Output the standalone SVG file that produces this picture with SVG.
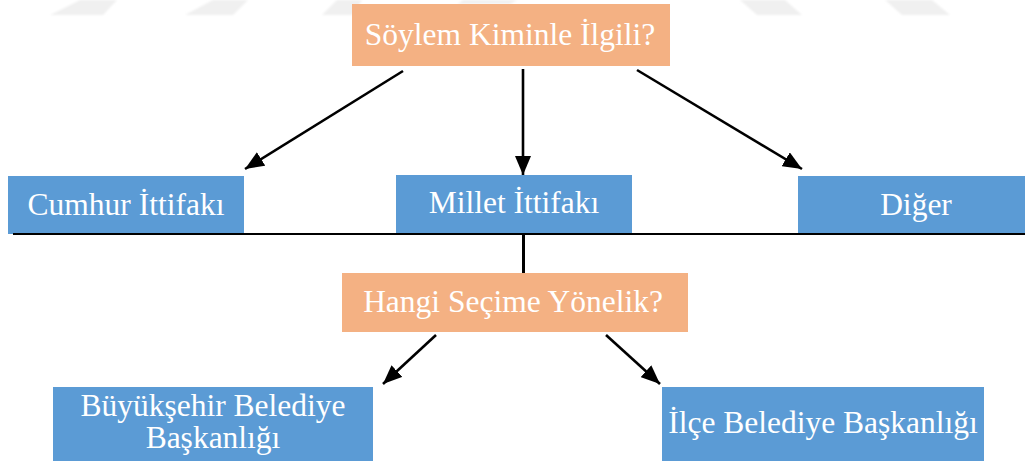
<svg xmlns="http://www.w3.org/2000/svg" width="1025" height="461" viewBox="0 0 1025 461">
  <style>
    .q { fill: #F4B183; }
    .b { fill: #5B9BD5; }
    .t { font-family: "Liberation Serif", "Times New Roman", serif; font-size: 31.5px; fill: #ffffff; text-anchor: middle; }
    .ln { stroke: #000000; stroke-width: 2.6; fill: none; }
    .wm { fill: #f0f0f0; }
  </style>
  <defs>
    <marker id="ah" markerUnits="userSpaceOnUse" markerWidth="19" markerHeight="16" refX="19" refY="8" orient="auto">
      <path d="M0,0 L19,8 L0,16 z" fill="#000000"/>
    </marker>
    <filter id="soft" x="-10%" y="-10%" width="120%" height="140%">
      <feGaussianBlur stdDeviation="0.8"/>
    </filter>
  </defs>
  <rect width="1025" height="461" fill="#ffffff"/>
  <g id="watermark" filter="url(#soft)">
    <polygon class="wm" points="80,0 117,0 103,15 50,15"/>
    <polygon class="wm" points="213,0 248,0 233,15 185,15"/>
    <polygon class="wm" points="337,0 362,0 352,15 322,15"/>
    <polygon class="wm" points="463,0 517,0 510,4 458,4"/>
    <polygon class="wm" points="740,0 785,0 802,15 757,15"/>
    <polygon class="wm" points="885,0 932,0 950,15 902,15"/>
  </g>
  <g id="connectors">
    <line class="ln" x1="403" y1="71" x2="245" y2="169" marker-end="url(#ah)"/>
    <line class="ln" x1="523" y1="69" x2="523" y2="175" marker-end="url(#ah)"/>
    <line class="ln" x1="637" y1="70" x2="802" y2="169" marker-end="url(#ah)"/>
    <line class="ln" x1="436" y1="335" x2="383" y2="384" marker-end="url(#ah)"/>
    <line class="ln" x1="606" y1="335" x2="660" y2="384" marker-end="url(#ah)"/>
  </g>
  <g id="node-soylem">
    <rect class="q" x="352" y="4" width="318" height="62"/>
    <text class="t" x="510" y="45">Söylem Kiminle İlgili?</text>
  </g>
  <g id="node-cumhur">
    <rect class="b" x="8" y="176" width="236" height="58"/>
    <text class="t" x="126" y="215">Cumhur İttifakı</text>
  </g>
  <g id="node-millet">
    <rect class="b" x="396" y="175" width="236" height="59"/>
    <text class="t" x="514" y="213">Millet İttifakı</text>
  </g>
  <g id="node-diger">
    <rect class="b" x="798" y="176" width="236" height="59"/>
    <text class="t" x="916" y="215">Diğer</text>
  </g>
  <g id="divider">
    <line x1="13" y1="234" x2="1025" y2="234" stroke="#000000" stroke-width="2.2"/>
    <line x1="523.5" y1="234" x2="523.5" y2="273" stroke="#000000" stroke-width="3"/>
  </g>
  <g id="node-hangi">
    <rect class="q" x="342" y="273" width="346" height="59"/>
    <text class="t" x="513" y="312">Hangi Seçime Yönelik?</text>
  </g>
  <g id="node-buyuksehir">
    <rect class="b" x="53" y="387" width="320" height="80"/>
    <text class="t" x="213" y="416">Büyükşehir Belediye</text>
    <text class="t" x="213" y="448">Başkanlığı</text>
  </g>
  <g id="node-ilce">
    <rect class="b" x="662" y="387" width="322" height="80"/>
    <text class="t" x="823" y="433">İlçe Belediye Başkanlığı</text>
  </g>
</svg>
